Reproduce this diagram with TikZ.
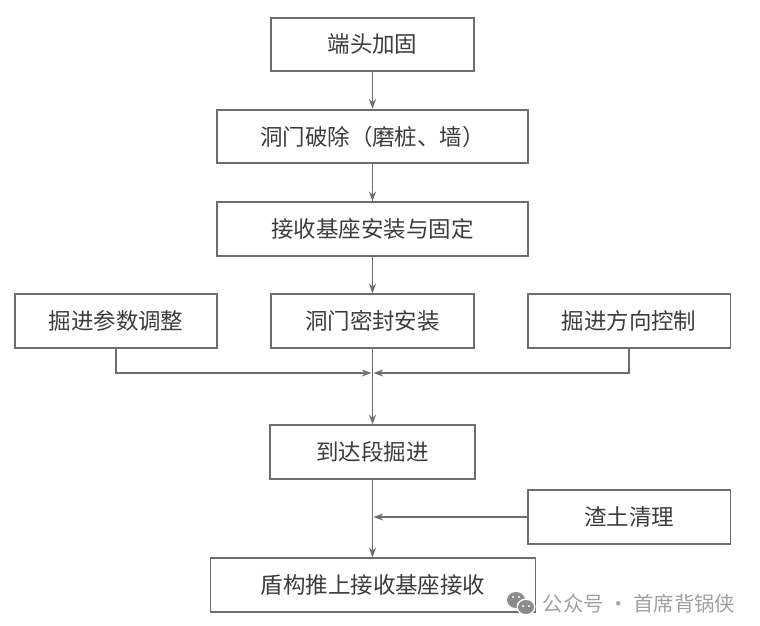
\documentclass[tikz,border=0pt]{standalone}
\usepackage{fontspec}
\setmainfont{Noto Sans CJK SC}
\usetikzlibrary{arrows.meta}
\definecolor{boxline}{HTML}{6E6E6E}
\definecolor{boxtext}{HTML}{3C3C3C}
\definecolor{marktext}{HTML}{A0A0A0}
\definecolor{markicon}{HTML}{8C8C8C}
\tikzset{
  stepbox/.style={draw=boxline,line width=1.1pt,text=boxtext,font=\fontsize{12.8pt}{15pt}\selectfont,
    inner sep=0pt,minimum height=30.5pt,anchor=center},
  flow/.style={draw=boxline,line width=0.9pt,-{Stealth[length=5.5pt,width=4pt]}},
  plainflow/.style={draw=boxline,line width=0.9pt}
}
\begin{document}
\begin{tikzpicture}[x=0.02cm,y=-0.02cm]
\useasboundingbox (0,0) rectangle (760,625);

% boxes
\node[stepbox,minimum width=115.5pt] (reinforce) at (372.5,44.5) {端头加固};
\node[stepbox,minimum width=177pt] (portal) at (372.5,136.5) {洞门破除（磨桩、墙）};
\node[stepbox,minimum width=177pt] (cradle) at (372.5,229) {接收基座安装与固定};
\node[stepbox,minimum width=115pt] (params) at (116,321) {掘进参数调整};
\node[stepbox,minimum width=116pt] (seal) at (372.5,321) {洞门密封安装};
\node[stepbox,minimum width=115.5pt] (heading) at (629,321) {掘进方向控制};
\node[stepbox,minimum width=117pt] (arrival) at (372.5,452) {到达段掘进};
\node[stepbox,minimum width=115.5pt] (muck) at (629,517) {渣土清理};
\node[stepbox,minimum width=185pt] (receive) at (373,585) {盾构推上接收基座接收};

% free ends on the main line
\coordinate (joinleft) at (371.5,373);
\coordinate (joinright) at (373.5,373);
\coordinate (joinmuck) at (373.5,517);

% connectors
\draw[flow] (reinforce) -- (portal);
\draw[flow] (portal) -- (cradle);
\draw[flow] (cradle) -- (seal);
\draw[flow] (seal) -- (arrival);
\draw[flow] (params.south) |- (joinleft);
\draw[flow] (heading.south) |- (joinright);
\draw[flow] (arrival.south) -- (arrival.south |- receive.north);
\draw[flow] (muck) -- (joinmuck);

% watermark
\fill[markicon] (516,600) ellipse (9 and 8);
\fill[white] (526,607) ellipse (9.5 and 8.5);
\fill[markicon] (526,607) ellipse (8 and 7);
\foreach \p in {(513,597),(519,597),(523,606),(529,606)}
  \fill[white] \p circle (1.2);
\node[inner sep=0pt,text=marktext,font=\fontsize{11.6pt}{14pt}\selectfont] (mark) at (639,604) {公众号 · 首席背锅侠};

\end{tikzpicture}
\end{document}
